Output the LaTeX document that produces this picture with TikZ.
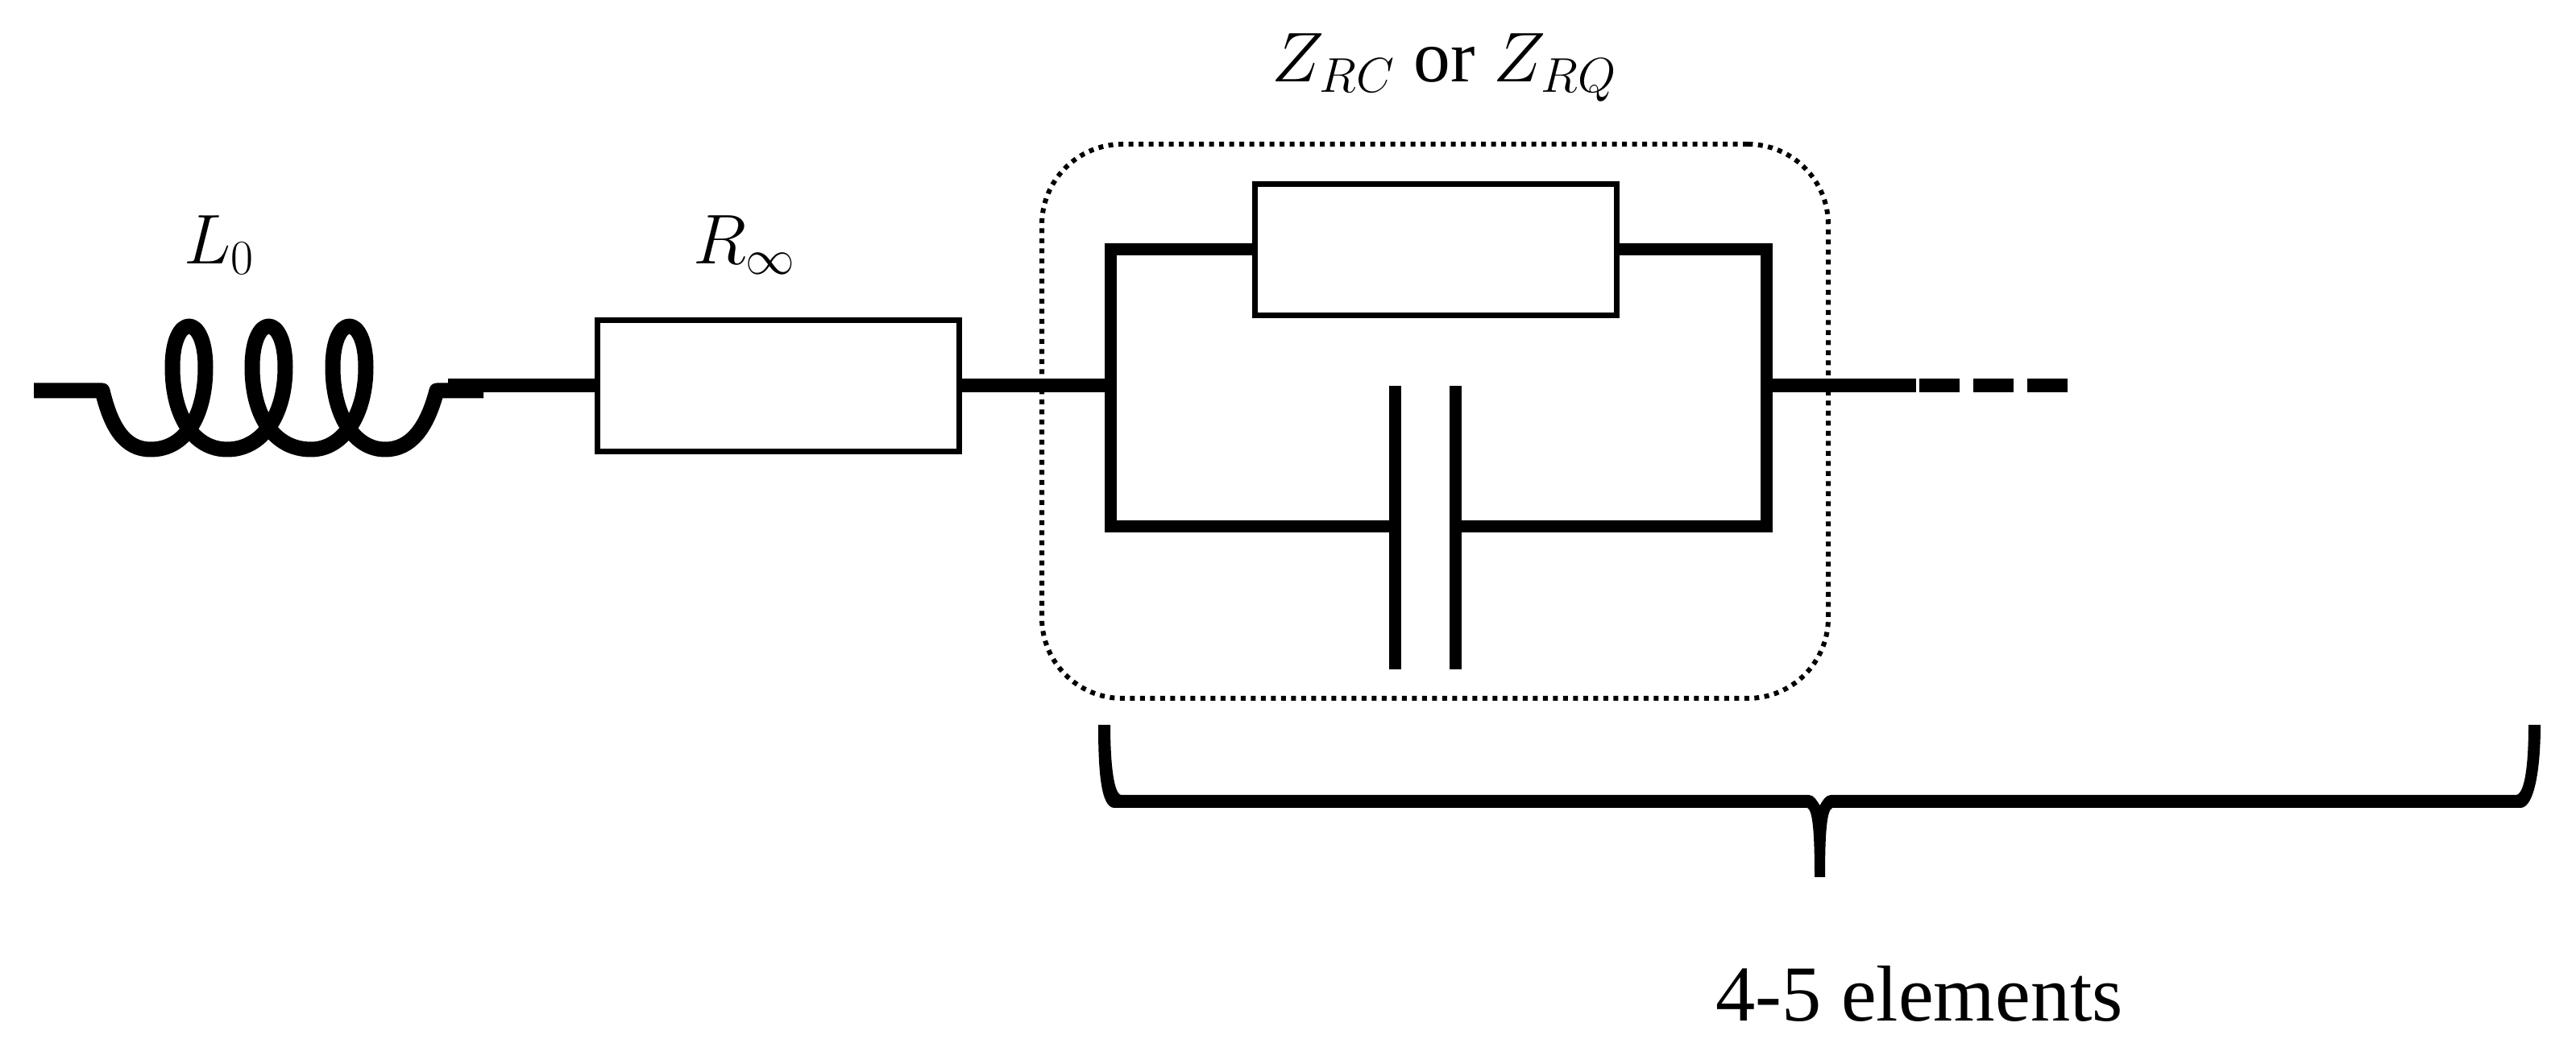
\documentclass[tikz,border=0pt]{standalone}
\usepackage{fontspec}
\setmainfont{Liberation Serif}
\usepackage{tikz}
\usetikzlibrary{calc}
\tikzstyle{wire} = [draw, line width=0.15cm, line join=miter]
\tikzstyle{thinwire} = [draw, line width=0.17cm]
\tikzstyle{coil} = [draw, line width=0.19cm, line join=round]
\tikzstyle{res} = [draw, fill=white, line width=0.07cm, inner sep=0pt, minimum width=4.49cm, minimum height=1.63cm]
\tikzstyle{plate} = [draw, line width=0.15cm]
\tikzstyle{group} = [draw, line width=0.06cm, rounded corners=1cm, inner sep=0pt, dash pattern=on 0.06cm off 0.065cm]
\tikzstyle{lab} = [inner sep=0pt, font=\fontsize{26}{30}\selectfont]

\begin{document}
\begin{tikzpicture}
    \useasboundingbox (0,0) rectangle (31.97,13.16);
    % coil
    \coordinate (c0) at (0.42,8.31);
    \coordinate (c1) at (1.27,8.31);
    \coordinate (c2) at (5.42,8.31);
    \coordinate (c3) at (6.0,8.31);
    \draw [coil] (c0) -- (c1) .. controls (1.38,7.85) and (1.55,7.58) .. (1.87,7.58)
      .. controls (2.3,7.58) and (2.55,8.0) .. (2.55,8.6) .. controls (2.55,9.28) and (2.14,9.28) .. (2.14,8.6)
      .. controls (2.14,8.0) and (2.4,7.58) .. (2.82,7.58) .. controls (3.25,7.58) and (3.54,8.0) .. (3.54,8.6) .. controls (3.54,9.28) and (3.13,9.28) .. (3.13,8.6)
      .. controls (3.13,8.0) and (3.4,7.58) .. (3.86,7.58) .. controls (4.25,7.58) and (4.54,8.0) .. (4.54,8.6) .. controls (4.54,9.28) and (4.13,9.28) .. (4.13,8.6)
      .. controls (4.13,8.0) and (4.4,7.58) .. (4.78,7.58) .. controls (5.1,7.58) and (5.3,7.85) .. (c2) -- (c3);
    \node [lab] (l0) at (2.72,10.12) {$L_0$};
    % series part
    \node [res] (rinf) at (9.66,8.37) {};
    \node [lab] (rlab) at (9.24,10.12) {$R_\infty$};
    \coordinate (w0) at (5.56,8.37);
    \coordinate (jl) at (13.78,8.37);
    \coordinate (jr) at (21.92,8.37);
    \coordinate (e0) at (23.78,8.37);
    \coordinate (e1) at (23.82,8.37);
    \coordinate (e2) at (25.66,8.37);
    \draw [thinwire] (w0) -- (rinf);
    \draw [thinwire] (rinf) -- (jl);
    \draw [thinwire] (jr) -- (e0);
    \draw [thinwire,dash pattern=on 0.5cm off 0.17cm] (e1) -- (e2);
    % parallel branch
    \node [res] (rz) at (17.815,10.06) {};
    \coordinate (tl) at (13.78,10.06);
    \coordinate (tr) at (21.92,10.06);
    \coordinate (bl) at (13.78,6.62);
    \coordinate (br) at (21.92,6.62);
    \coordinate (p1) at (17.31,8.37);
    \coordinate (p2) at (17.31,4.85);
    \coordinate (p3) at (18.065,8.37);
    \coordinate (p4) at (18.065,4.85);
    \draw [wire] (rz.west) -- (tl) -- (bl) -- (p1 |- bl);
    \draw [wire] (rz.east) -- (tr) -- (br) -- (p3 |- br);
    \draw [plate] (p1) -- (p2);
    \draw [plate] (p3) -- (p4);
    \node [group,minimum width=9.76cm,minimum height=6.88cm] (zgroup) at (17.81,7.93) {};
    \node [lab] (zlab) at (17.93,12.32) {$Z_{RC}$ or $Z_{RQ}$};
    % brace
    \fill (13.63,4.16) .. controls (13.63,3.6) and (13.66,3.13) .. (13.83,3.13) -- (22.43,3.13)
      .. controls (22.5,3.1) and (22.52,2.8) .. (22.52,2.27) -- (22.65,2.27)
      .. controls (22.65,2.8) and (22.67,3.1) .. (22.74,3.13) -- (31.28,3.13)
      .. controls (31.45,3.13) and (31.53,3.6) .. (31.53,4.16) -- (31.38,4.16)
      .. controls (31.38,3.7) and (31.34,3.29) .. (31.22,3.29) -- (22.72,3.29)
      .. controls (22.66,3.29) and (22.62,3.22) .. (22.585,3.16) .. controls (22.55,3.22) and (22.51,3.29) .. (22.45,3.29)
      -- (13.92,3.29) .. controls (13.82,3.29) and (13.78,3.7) .. (13.78,4.16) -- cycle;
    \node [inner sep=0pt,font=\fontsize{28}{32}\selectfont] (count) at (23.82,0.82) {4-5 elements};
  \end{tikzpicture}
\end{document}
